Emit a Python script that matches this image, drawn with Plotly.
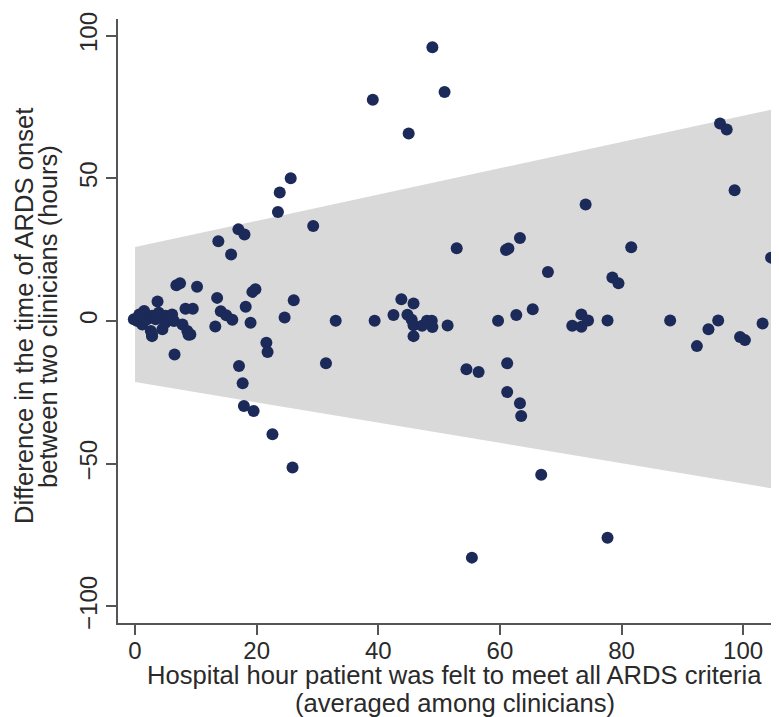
import plotly.graph_objects as go

# Mean hospital hour (x) and difference between clinicians (y)
hour_mean = [
    -0.2, 0.4, 0.7, 1.2, 1.5, 2.0, 2.6, 2.8, 2.8, 3.4, 3.9, 4.5, 5.0, 5.0, 6.1, 6.4,
    7.8, 8.6, 9.1, 3.7, 2.8, 6.5, 8.8,
    6.8, 7.4, 10.2, 8.3, 9.5, 13.5, 14.1, 15.0, 16.0, 13.2, 13.7, 15.8, 17.0, 18.0,
    18.2, 19.0, 19.3, 19.8, 17.1, 17.7, 17.9, 19.5, 21.6, 21.8, 22.6,
    23.5, 23.8, 25.6, 24.6, 26.1, 25.9, 29.3, 31.4, 33.0, 39.4, 39.1, 45.0,
    48.9, 50.9, 42.5, 43.8, 44.8, 45.5, 45.8, 45.8, 45.8, 47.2, 48.0, 48.8, 48.9,
    51.4, 52.9, 54.5, 56.5, 55.4, 59.7, 61.0, 61.4, 61.2, 61.2, 63.3, 63.3, 63.5,
    62.7, 65.4, 66.8, 67.9, 71.9, 73.4, 73.4, 74.5, 74.1, 77.7, 77.7, 78.5, 79.5,
    81.6, 88.0, 92.4, 94.3, 95.9, 96.2, 97.3, 98.6, 99.5, 100.3, 103.2, 104.6,
]
diff_hours = [
    0.6, 0.0, 2.3, -1.2, 3.5, 0.6, -3.5, 1.8, -5.3, 0.6, 2.9, -2.9, 1.8, -0.6, 2.3, 0.0,
    -1.2, -3.5, -4.7, 6.8, -4.7, -11.7, -4.8,
    12.5, 13.2, 12.0, 4.3, 4.3, 8.1, 3.4, 2.0, 0.4, -1.9, 27.9, 23.3, 32.1, 30.3,
    5.0, -0.6, 10.2, 11.1, -15.8, -21.8, -29.8, -31.5, -7.6, -10.9, -39.7,
    38.2, 45.0, 50.0, 1.2, 7.3, -51.3, 33.3, -14.8, 0.1, 0.1, 77.5, 65.7,
    95.9, 80.2, 2.1, 7.6, 2.2, 0.4, 6.1, -1.5, -5.3, -1.7, 0.1, 0.1, -2.1,
    -1.6, 25.5, -16.9, -17.9, -82.9, 0.1, 24.9, 25.4, -14.8, -24.9, 29.1, -28.8, -33.3,
    2.1, 4.1, -53.9, 17.2, -1.7, 2.3, -2.0, 0.2, 40.8, 0.2, -75.9, 15.2, 13.2,
    25.8, 0.2, -8.8, -2.9, 0.2, 69.2, 67.1, 45.8, -5.6, -6.7, -0.9, 22.2,
]

# Limits of agreement band (at the ends of the x span)
band_x = [0, 105.0]
band_upper = [25.9, 74.2]
band_lower = [-21.4, -58.7]

x_ticks = [0, 20, 40, 60, 80, 100]
y_ticks = [-100, -50, 0, 50, 100]

x_title_lines = ["Hospital hour patient was felt to meet all ARDS criteria",
                 "(averaged among clinicians)"]
y_title_lines = ["Difference in the time of ARDS onset",
                 "between two clinicians (hours)"]

FONT = "Liberation Sans, Arial, sans-serif"
NAVY = "#1b2a58"
TXT = "#2a2a2a"
AX = "#555555"

# page body margin offsets the figure by 8px in the browser
OFF = 8
W, H = 779, 717
# target plot area in window pixels: left 118, right 779, top 19, bottom 623
L, T = 118 - OFF, 19 - OFF
R = W - (779 - OFF)
B = H - (623 - OFF)
PW, PH = W - L - R, H - T - B

fig = go.Figure()
fig.add_trace(go.Scatter(x=band_x, y=band_lower, mode="lines",
                         line=dict(width=0, color="#d9d9d9"), showlegend=False,
                         hoverinfo="skip"))
fig.add_trace(go.Scatter(x=band_x, y=band_upper, mode="lines", fill="tonexty",
                         fillcolor="#d9d9d9", line=dict(width=0, color="#d9d9d9"),
                         showlegend=False, hoverinfo="skip"))
fig.add_trace(go.Scatter(x=hour_mean, y=diff_hours, mode="markers",
                         marker=dict(size=12, color=NAVY, line=dict(width=0)),
                         showlegend=False))

def px_x(px):
    return (px - OFF - L) / PW

def px_y(py):
    return (H - B - (py - OFF)) / PH

TS = 25.6
annotations = [
    dict(text=x_title_lines[0], x=px_x(454), y=px_y(675),
         xref="paper", yref="paper", xanchor="center", yanchor="middle",
         showarrow=False, font=dict(size=TS, color=TXT, family=FONT)),
    dict(text=x_title_lines[1], x=px_x(455), y=px_y(703),
         xref="paper", yref="paper", xanchor="center", yanchor="middle",
         showarrow=False, font=dict(size=TS, color=TXT, family=FONT)),
    dict(text=y_title_lines[0], x=px_x(24), y=px_y(316),
         xref="paper", yref="paper", xanchor="center", yanchor="middle",
         textangle=-90, showarrow=False, font=dict(size=TS, color=TXT, family=FONT)),
    dict(text=y_title_lines[1], x=px_x(48), y=px_y(317),
         xref="paper", yref="paper", xanchor="center", yanchor="middle",
         textangle=-90, showarrow=False, font=dict(size=TS, color=TXT, family=FONT)),
]

fig.update_layout(
    width=W, height=H,
    margin=dict(l=L, r=R, t=T, b=B, autoexpand=False),
    paper_bgcolor="white", plot_bgcolor="white",
    font=dict(family=FONT, size=24, color=TXT),
    xaxis=dict(range=[-2.8, 105.9], tickvals=x_ticks, ticks="outside", ticklen=10,
               tickcolor=AX, tickwidth=1.5, showline=True, linecolor=AX,
               linewidth=1.5, showgrid=False, zeroline=False, automargin=False,
               ticklabelstandoff=-5, tickfont=dict(size=24, color=TXT)),
    yaxis=dict(range=[-105.8, 105.8], tickvals=y_ticks, ticks="outside", ticklen=10,
               tickcolor=AX, tickwidth=1.5, showline=True, linecolor=AX,
               linewidth=1.5, showgrid=False, zeroline=False, tickangle=-90,
               automargin=False, tickfont=dict(size=24, color=TXT)),
    annotations=annotations,
)

fig.write_html("out.html")
